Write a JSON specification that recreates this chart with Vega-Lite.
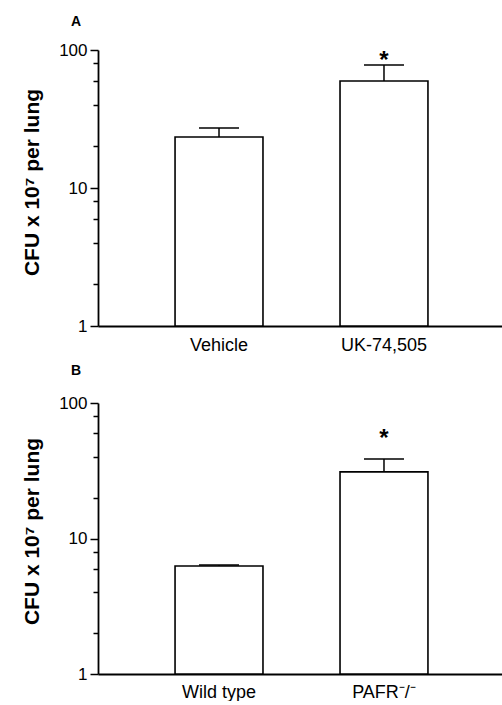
{
  "$schema": "https://vega.github.io/schema/vega-lite/v6.json",
  "background": "white",
  "padding": {"left": 20, "top": 15, "right": 0, "bottom": 0},
  "spacing": 10,
  "config": {
    "view": {"stroke": null},
    "font": "Liberation Sans",
    "axis": {"grid": false, "domainColor": "black", "domainWidth": 1.8, "tickColor": "black", "tickWidth": 1.5, "labelColor": "black", "titleColor": "black"},
    "title": {"color": "black", "fontSize": 14, "fontWeight": "bold", "anchor": "start", "frame": "group", "dx": -27, "offset": 12}
  },
  "vconcat": [
    {
      "title": {"text": "A"},
      "width": 407,
      "height": 276,
      "data": {"values": [
        {"group": "Vehicle", "mean": 23.4, "upper": 27.2, "base": 1, "star": "", "star_y": null},
        {"group": "UK-74,505", "mean": 59.6, "upper": 77.8, "base": 1, "star": "*", "star_y": 92}
      ]},
      "encoding": {
        "x": {"field": "group", "type": "nominal", "sort": null, "title": null,
          "scale": {"paddingInner": 0.467, "paddingOuter": 0.467},
          "axis": {"ticks": false, "tickSize": 0, "labelAngle": 0, "labelFontSize": 18, "labelPadding": 10}}
      },
      "resolve": {"axis": {"y": "independent"}},
      "layer": [
        {"mark": {"type": "bar", "fill": "white", "stroke": "black", "strokeWidth": 1.6},
         "encoding": {"y": {"field": "mean", "type": "quantitative",
           "scale": {"type": "log", "domain": [1, 100]},
           "axis": {"values": [1, 10, 100], "format": "d", "orient": "left", "tickCount": 20,
             "tickSize": 8,
             "labelFontSize": 17, "labelPadding": 3,
             "title": "CFU x 10⁷ per lung", "titleFontSize": 21, "titleFontWeight": "bold",
             "titleBaseline": "alphabetic", "titleX": -60, "titleY": 132}},
           "y2": {"field": "base"}}},
        {"mark": {"type": "rule", "color": "black", "strokeWidth": 1.5},
         "encoding": {"y": {"field": "mean", "type": "quantitative",
           "axis": {"values": [2, 4, 6, 8, 20, 40, 60, 80], "tickCount": 20, "orient": "left", "labels": false, "domain": false, "tickSize": 5, "tickWidth": 1.5, "title": null}},
           "y2": {"field": "upper"}}},
        {"mark": {"type": "tick", "color": "black", "size": 40, "thickness": 1.6, "opacity": 1},
         "encoding": {"y": {"field": "upper", "type": "quantitative", "axis": null}}},
        {"transform": [{"filter": "isValid(datum.star_y)"}],
         "mark": {"type": "text", "fontSize": 24, "fontWeight": "bold", "baseline": "middle", "dy": 6, "color": "black"},
         "encoding": {"y": {"field": "star_y", "type": "quantitative", "axis": null}, "text": {"field": "star"}}}
      ]
    },
    {
      "title": {"text": "B", "offset": 16},
      "width": 407,
      "height": 271,
      "data": {"values": [
        {"group": "Wild type", "mean": 6.27, "upper": 6.37, "base": 1, "star": "", "star_y": null},
        {"group": "PAFR⁻/⁻", "mean": 31.0, "upper": 38.6, "base": 1, "star": "*", "star_y": 60}
      ]},
      "encoding": {
        "x": {"field": "group", "type": "nominal", "sort": null, "title": null,
          "scale": {"paddingInner": 0.467, "paddingOuter": 0.467},
          "axis": {"ticks": false, "tickSize": 0, "labelAngle": 0, "labelFontSize": 18, "labelPadding": 9}}
      },
      "resolve": {"axis": {"y": "independent"}},
      "layer": [
        {"mark": {"type": "bar", "fill": "white", "stroke": "black", "strokeWidth": 1.6},
         "encoding": {"y": {"field": "mean", "type": "quantitative",
           "scale": {"type": "log", "domain": [1, 100]},
           "axis": {"values": [1, 10, 100], "format": "d", "orient": "left", "tickCount": 20,
             "tickSize": 8,
             "labelFontSize": 17, "labelPadding": 3,
             "title": "CFU x 10⁷ per lung", "titleFontSize": 21, "titleFontWeight": "bold",
             "titleBaseline": "alphabetic", "titleX": -60, "titleY": 128}},
           "y2": {"field": "base"}}},
        {"mark": {"type": "rule", "color": "black", "strokeWidth": 1.5},
         "encoding": {"y": {"field": "mean", "type": "quantitative",
           "axis": {"values": [2, 4, 6, 8, 20, 40, 60, 80], "tickCount": 20, "orient": "left", "labels": false, "domain": false, "tickSize": 5, "tickWidth": 1.5, "title": null}},
           "y2": {"field": "upper"}}},
        {"mark": {"type": "tick", "color": "black", "size": 40, "thickness": 1.6, "opacity": 1},
         "encoding": {"y": {"field": "upper", "type": "quantitative", "axis": null}}},
        {"transform": [{"filter": "isValid(datum.star_y)"}],
         "mark": {"type": "text", "fontSize": 24, "fontWeight": "bold", "baseline": "middle", "dy": 6, "color": "black"},
         "encoding": {"y": {"field": "star_y", "type": "quantitative", "axis": null}, "text": {"field": "star"}}}
      ]
    }
  ]
}
